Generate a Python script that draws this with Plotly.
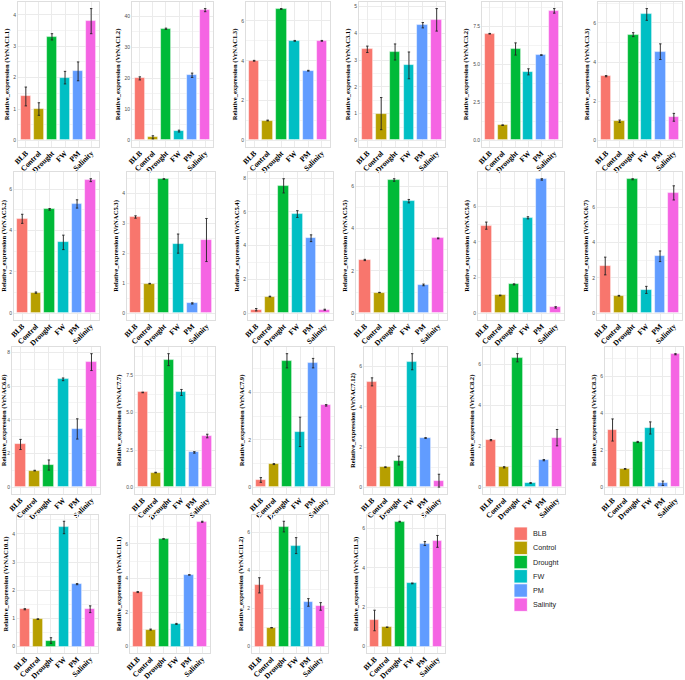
import plotly.graph_objects as go

treatments = ["BLB", "Control", "Drought", "FW", "PM", "Salinity"]
colors = ["#F8766D", "#B79F00", "#00BA38", "#00BFC4", "#619CFF", "#F564E3"]

genes = ["VrNAC1.1", "VrNAC1.2", "VrNAC1.3", "VrNAC3.1", "VrNAC3.2", "VrNAC3.3",
         "VrNAC5.2", "VrNAC5.3", "VrNAC5.4", "VrNAC5.5", "VrNAC5.6", "VrNAC6.7",
         "VrNAC6.8", "VrNAC7.7", "VrNAC7.9", "VrNAC7.12", "VrNAC8.2", "VrNAC8.3",
         "VrNAC10.1", "VrNAC11.1", "VrNAC11.2", "VrNAC11.3"]

means = [
    [1.4, 1.0, 3.3, 2.0, 2.2, 3.8],
    [20, 1, 36, 3, 21, 42],
    [4.0, 1.0, 6.6, 5.0, 3.5, 5.0],
    [3.4, 1.0, 3.3, 2.8, 4.3, 4.5],
    [7.0, 1.0, 6.0, 4.5, 5.6, 8.5],
    [3.28, 0.98, 5.4, 6.43, 4.53, 1.18],
    [4.57, 1.0, 5.03, 3.43, 5.29, 6.44],
    [3.22, 0.99, 4.49, 2.33, 0.33, 2.45],
    [0.21, 0.99, 7.54, 5.87, 4.44, 0.21],
    [2.52, 0.98, 6.3, 5.3, 1.34, 3.54],
    [4.91, 1.0, 1.62, 5.35, 7.5, 0.33],
    [2.67, 0.99, 7.57, 1.32, 3.22, 6.8],
    [2.54, 0.99, 1.32, 6.4, 3.46, 7.42],
    [6.36, 0.99, 8.56, 6.36, 2.34, 3.44],
    [0.31, 0.98, 5.34, 2.34, 5.24, 3.46],
    [5.24, 1.0, 1.33, 6.24, 2.45, 0.33],
    [2.31, 0.98, 6.34, 0.21, 1.33, 2.43],
    [3.11, 1.0, 2.46, 3.22, 0.22, 7.22],
    [1.33, 0.98, 0.22, 4.23, 2.22, 1.33],
    [3.19, 1.0, 6.29, 1.33, 4.19, 7.29],
    [3.23, 1.0, 6.32, 5.32, 2.33, 2.12],
    [1.33, 0.99, 6.34, 3.21, 5.23, 5.34],
]

errors = [
    [0.3, 0.2, 0.1, 0.2, 0.3, 0.4],
    [0.5, 0.5, 0.2, 0.3, 0.7, 0.5],
    [0.02, 0.02, 0.02, 0.02, 0.02, 0.02],
    [0.12, 0.6, 0.3, 0.5, 0.1, 0.42],
    [0.02, 0.02, 0.4, 0.2, 0.02, 0.15],
    [0.03, 0.06, 0.1, 0.3, 0.4, 0.2],
    [0.22, 0.03, 0.04, 0.35, 0.2, 0.07],
    [0.04, 0.01, 0.01, 0.32, 0.02, 0.72],
    [0.07, 0.02, 0.42, 0.2, 0.2, 0.03],
    [0.03, 0.01, 0.06, 0.08, 0.04, 0.02],
    [0.2, 0.02, 0.03, 0.06, 0.04, 0.04],
    [0.5, 0.02, 0.03, 0.2, 0.3, 0.4],
    [0.3, 0.02, 0.3, 0.08, 0.6, 0.5],
    [0.02, 0.02, 0.4, 0.2, 0.05, 0.12],
    [0.1, 0.02, 0.3, 0.62, 0.2, 0.03],
    [0.2, 0.02, 0.22, 0.4, 0.02, 0.32],
    [0.03, 0.03, 0.2, 0.02, 0.03, 0.4],
    [0.6, 0.02, 0.03, 0.33, 0.12, 0.03],
    [0.02, 0.01, 0.1, 0.22, 0.02, 0.12],
    [0.03, 0.03, 0.01, 0.03, 0.01, 0.03],
    [0.4, 0.01, 0.28, 0.42, 0.2, 0.2],
    [0.52, 0.01, 0.02, 0.02, 0.1, 0.3],
]

tick_steps = [1, 10, 2, 1, 2.5, 2, 2, 1, 2, 2, 2, 2, 2, 2.5, 2, 2, 2, 2, 1, 2, 2, 2]

# panel plot-area rectangles in pixels: (left, right, top, bottom)
W, H = 685, 680
rows_y = [(2, 147), (172, 320), (347, 494), (515, 653)]
cols_x = [
    [(18, 99), (132, 213), (246, 330), (359, 445), (482, 562), (598, 682)],
    [(14, 99), (127, 215), (248, 333), (356, 447), (478, 564), (597, 682)],
    [(12, 100), (135, 215), (253, 334), (364, 447), (483, 565), (605, 683)],
    [(17, 98), (130, 210), (252, 328), (367, 445)],
]
rects = []
for r, cx in enumerate(cols_x):
    for (x0, x1) in cx:
        rects.append((x0, x1, rows_y[r][0], rows_y[r][1]))

fig = go.Figure()
serif = "Liberation Serif"

for i, g in enumerate(genes):
    ax = "" if i == 0 else str(i + 1)
    for j, t in enumerate(treatments):
        fig.add_trace(go.Bar(
            x=[t], y=[means[i][j]],
            error_y=dict(type="data", array=[errors[i][j]], color="#222222",
                         thickness=0.9, width=1.2),
            marker=dict(color=colors[j], line=dict(color="rgba(255,255,255,0.6)", width=0.8)),
            width=0.78,
            name=t, legendgroup=t, showlegend=False,
            xaxis="x" + ax, yaxis="y" + ax,
        ))
    top = max(m + e for m, e in zip(means[i], errors[i]))
    x0, x1, y0, y1 = rects[i]
    fmt = ".1f" if tick_steps[i] == 2.5 else ""
    fig.layout["xaxis" + ax] = dict(
        domain=[x0 / W, x1 / W], anchor="y" + ax,
        type="category", categoryorder="array", categoryarray=treatments,
        range=[-0.6, 5.6], tickangle=-45, ticklabelstandoff=-2,
        tickfont=dict(family=serif, size=7.6, color="#000000", weight="bold"),
        showgrid=True, gridcolor="#ebebeb", gridwidth=0.8,
        showline=True, mirror=True, linecolor="#dedede", linewidth=0.8,
        ticks="", zeroline=False, fixedrange=True, automargin=False,
    )
    fig.layout["yaxis" + ax] = dict(
        domain=[1 - y1 / H, 1 - y0 / H], anchor="x" + ax,
        range=[-0.05 * top, 1.05 * top], dtick=tick_steps[i], tick0=0,
        tickformat=fmt,
        tickfont=dict(family="Liberation Sans", size=5, color="#4d4d4d"),
        title=dict(text="Relative_expression (" + g + ")",
                   font=dict(family=serif, size=6.6, color="#000000", weight="bold"),
                   standoff=3),
        showgrid=True, gridcolor="#ebebeb", gridwidth=0.8,
        minor=dict(showgrid=True, gridcolor="#f4f4f4", gridwidth=0.5,
                   dtick=tick_steps[i] / 2, tick0=0),
        showline=True, mirror=True, linecolor="#dedede", linewidth=0.8,
        ticks="", zeroline=False, fixedrange=True, automargin=False,
    )

# legend keys (drawn in paper coordinates)
key_x0, key_y0, key_size, key_step = 514, 527, 13.4, 14.2
for j, t in enumerate(treatments):
    yt = key_y0 + j * key_step
    fig.add_shape(type="rect", xref="paper", yref="paper",
                  x0=key_x0 / W, x1=(key_x0 + key_size) / W,
                  y0=1 - (yt + key_size) / H, y1=1 - yt / H,
                  fillcolor=colors[j], line=dict(color="white", width=0.8))
    fig.add_annotation(xref="paper", yref="paper", x=(key_x0 + key_size + 4) / W,
                       y=1 - (yt + key_size / 2) / H, text=t, showarrow=False,
                       xanchor="left", yanchor="middle",
                       font=dict(family="Liberation Sans", size=7.2, color="#1a1a1a"))

fig.update_layout(
    width=W, height=H,
    margin=dict(l=0, r=0, t=0, b=0),
    paper_bgcolor="white", plot_bgcolor="white",
    showlegend=False,
    bargap=0,
)

fig.write_html("out.html", config={"displayModeBar": False},
               post_script="document.body.style.margin='0';")
